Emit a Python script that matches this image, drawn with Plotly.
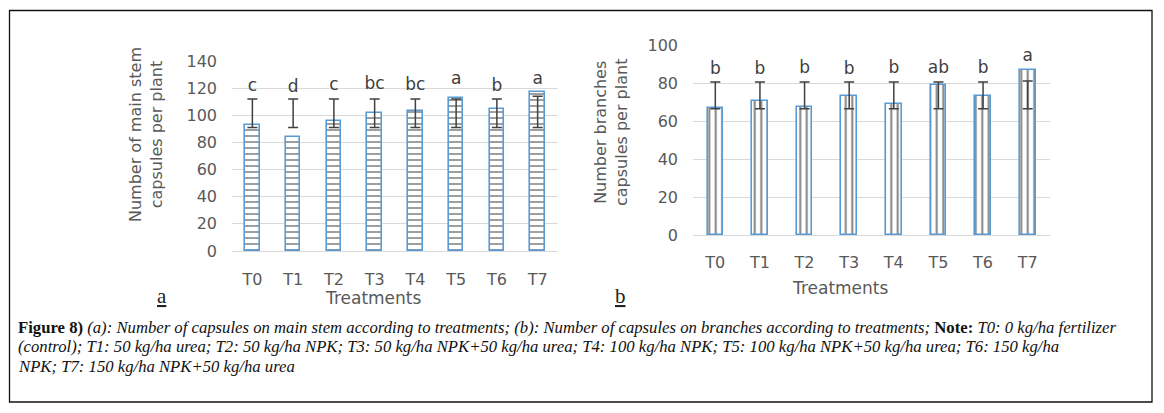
import plotly.graph_objects as go

W, H = 1164, 413

treatments = ["T0", "T1", "T2", "T3", "T4", "T5", "T6", "T7"]

# Panel a: main stem capsules per plant
stem_values = [93, 84, 96, 102, 103, 112.5, 105, 117]
stem_err_low = [91, 91, 91, 91, 91, 91, 91, 91]
stem_err_high = [112, 112, 112, 112, 112, 112, 112, 114]
stem_letters = ["c", "d", "c", "bc", "bc", "a", "b", "a"]
stem_letter_y = [121, 120, 122, 122.5, 122, 126.5, 121, 126.5]

# Panel b: branch capsules per plant
branch_values = [66.7, 70.5, 67.2, 73.3, 69, 78.8, 73.2, 86.8]
branch_err_low = [66.5, 66.5, 66.5, 66.5, 66.5, 66.5, 66.5, 66.5]
branch_err_high = [80.5, 80.5, 80.5, 80.5, 80.5, 80.5, 80.5, 81]
branch_letters = ["b", "b", "b", "b", "b", "ab", "b", "a"]
branch_letter_y = [87, 87, 87.5, 87, 87.5, 87.5, 87.5, 94]

caption_lines = [
    "<b>Figure 8)</b> <i>(a): Number of capsules on main stem according to treatments; (b): Number of capsules on branches according to treatments;</i> <b>Note:</b> <i>T0: 0 kg/ha fertilizer</i>",
    "<i>(control); T1: 50 kg/ha urea; T2: 50 kg/ha NPK; T3: 50 kg/ha NPK+50 kg/ha urea; T4: 100 kg/ha NPK; T5: 100 kg/ha NPK+50 kg/ha urea; T6: 150 kg/ha</i>",
    "<i>NPK; T7: 150 kg/ha NPK+50 kg/ha urea</i>",
]

GRAY = "#595959"
BLUE = "#5B9BD5"
FONT = "DejaVu Sans"


def px(x):
    return x / W


def py(y):
    return 1 - y / H


fig = go.Figure()


def add_panel(values, lo, hi, letters, letter_y, xa, ya, shape, size, solidity):
    fig.add_trace(go.Bar(
        x=treatments, y=values, width=0.35, xaxis=xa, yaxis=ya,
        marker=dict(color="white", line=dict(color=BLUE, width=1.6),
                    pattern=dict(shape=shape, fgcolor="#000000", bgcolor="white",
                                 size=size, solidity=solidity)),
        showlegend=False, hoverinfo="skip",
    ))
    mids = [(a + b) / 2 for a, b in zip(lo, hi)]
    halves = [(b - a) / 2 for a, b in zip(lo, hi)]
    fig.add_trace(go.Scatter(
        x=treatments, y=mids, mode="markers", xaxis=xa, yaxis=ya,
        marker=dict(color="rgba(0,0,0,0)", size=1),
        error_y=dict(type="data", array=halves, visible=True,
                     color="#404040", thickness=1.5, width=5),
        showlegend=False, hoverinfo="skip",
    ))
    fig.add_trace(go.Scatter(
        x=treatments, y=letter_y, mode="text", text=letters, xaxis=xa, yaxis=ya,
        textfont=dict(family=FONT, size=17, color="#404040"),
        textposition="middle center", showlegend=False, hoverinfo="skip",
        cliponaxis=False,
    ))


add_panel(stem_values, stem_err_low, stem_err_high, stem_letters, stem_letter_y,
          "x", "y", "-", 6, 0.25)
add_panel(branch_values, branch_err_low, branch_err_high, branch_letters, branch_letter_y,
          "x2", "y2", "|", 6.5, 0.3)

axis_common = dict(showline=False, zeroline=False, automargin=False,
                   tickfont=dict(family=FONT, size=16, color=GRAY))

fig.update_layout(
    width=W, height=H, margin=dict(l=0, r=0, t=0, b=0, pad=0),
    autosize=False,
    paper_bgcolor="white", plot_bgcolor="white",
    bargap=0,
    xaxis=dict(domain=[px(232), px(558)], anchor="y", showgrid=False,
               ticklabelstandoff=14, **axis_common),
    yaxis=dict(domain=[py(251), py(61)], anchor="x", range=[0, 140], dtick=20,
               showgrid=True, gridcolor="#d9d9d9", gridwidth=1,
               ticklabelstandoff=14, **axis_common),
    xaxis2=dict(domain=[px(693), px(1050)], anchor="y2", showgrid=False,
                ticklabelstandoff=13, **axis_common),
    yaxis2=dict(domain=[py(235), py(45)], anchor="x2", range=[0, 100], dtick=20,
                showgrid=True, gridcolor="#d9d9d9", gridwidth=1,
                ticklabelstandoff=14, **axis_common),
)

fig.update_xaxes(showline=True, linecolor="#d9d9d9", linewidth=1)


def note(x, y, text, size, family=FONT, color=GRAY, angle=0, xanchor="center"):
    return dict(x=px(x), y=py(y), xref="paper", yref="paper", text=text,
                xanchor=xanchor, yanchor="middle", showarrow=False, textangle=angle,
                font=dict(family=family, size=size, color=color))


ann = [
    note(373, 298, "Treatments", 17),
    note(840, 288, "Treatments", 17),
    note(146, 135, "Number of main stem<br>capsules per plant", 16, angle=-90),
    note(611, 133, "Number branches<br>capsules per plant", 16, angle=-90),
    note(162, 296, "<u>a</u>", 21, family="Liberation Serif", color="#222"),
    note(620, 296, "<u>b</u>", 21, family="Liberation Serif", color="#222"),
]
for line, yy in zip(caption_lines, [327, 346, 366]):
    ann.append(note(16, yy, line, 16.7, family="Liberation Serif", color="#111",
                    xanchor="left"))
fig.update_layout(annotations=ann)

fig.add_shape(type="rect", xref="paper", yref="paper",
              x0=px(9.5), x1=px(1152), y0=py(402), y1=py(10.5),
              line=dict(color="#111111", width=1.3), fillcolor="rgba(0,0,0,0)")

fig.write_html(
    "out.html",
    config={"displayModeBar": False},
    post_script="document.body.style.margin='0';document.body.style.overflow='hidden';",
)
